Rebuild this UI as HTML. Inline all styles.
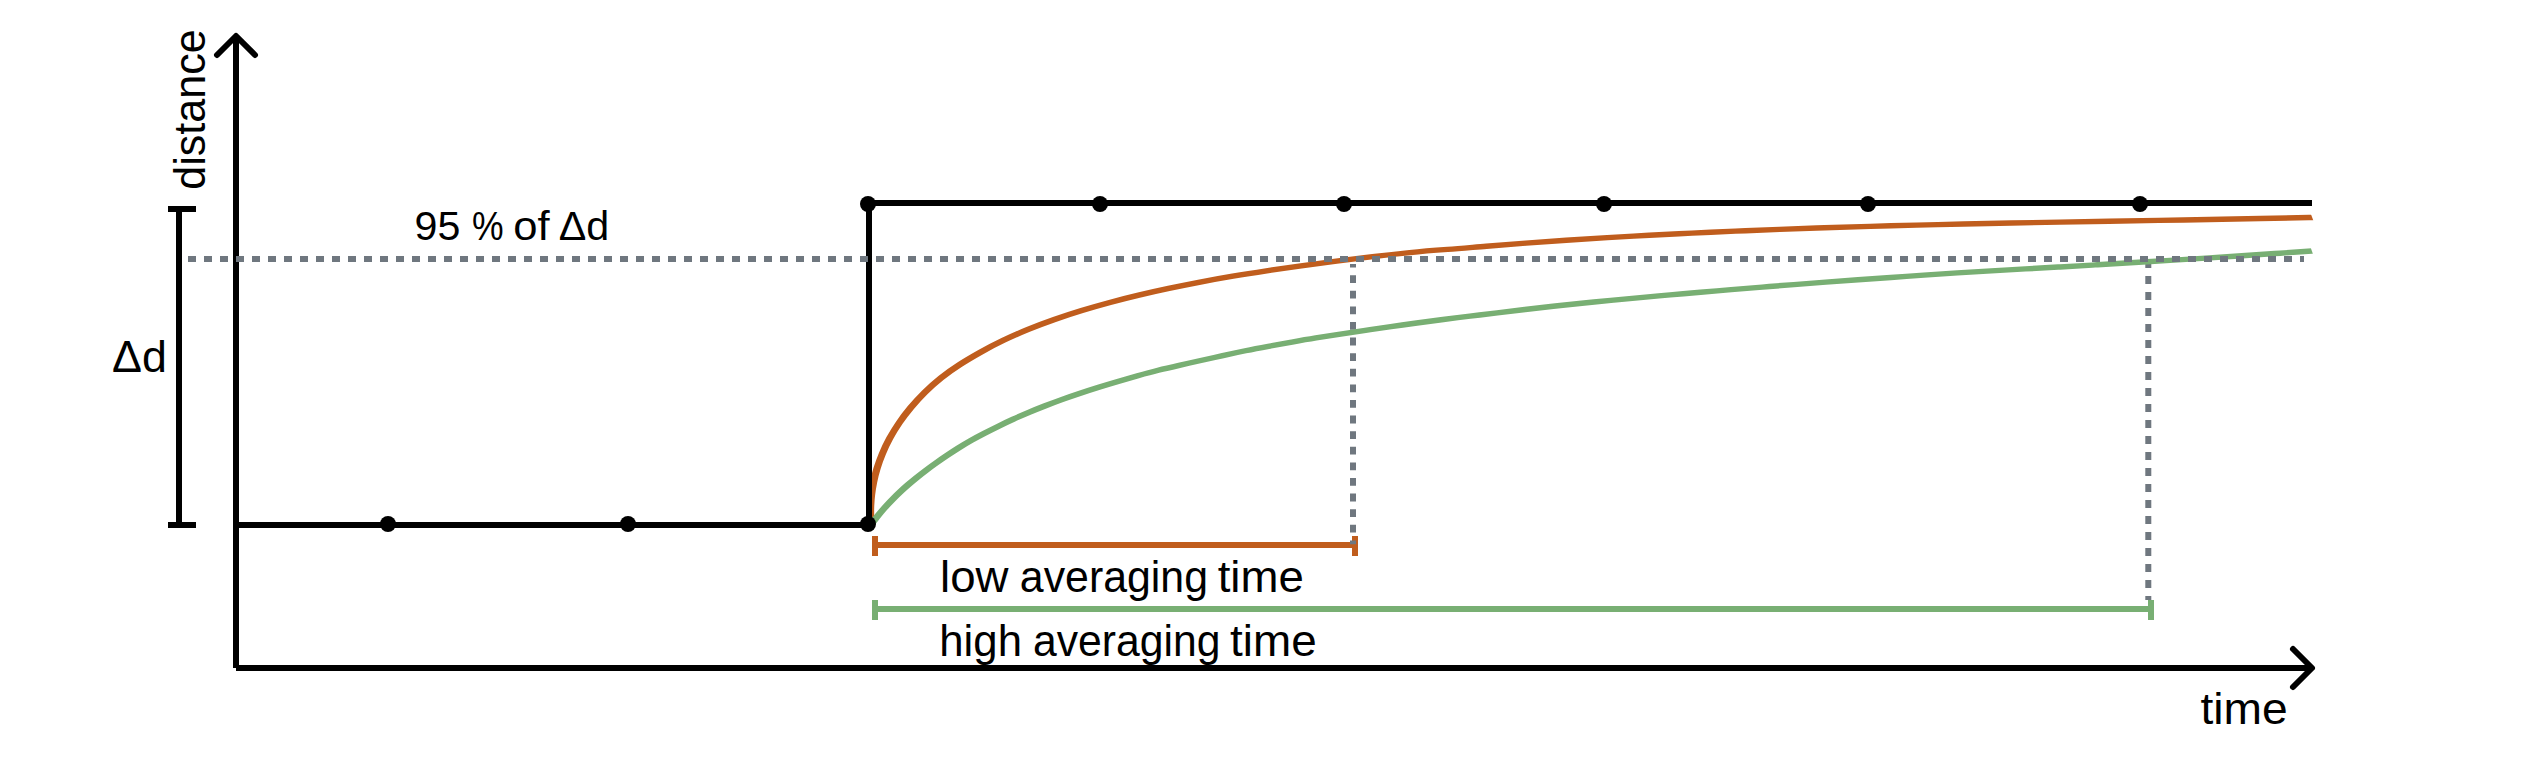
<!DOCTYPE html>
<html lang="en">
<head>
<meta charset="utf-8">
<title>Averaging time step response</title>
<style>
html,body{margin:0;padding:0;background:#fff;}
body{width:2540px;height:768px;overflow:hidden;}
svg{display:block;}
text{font-family:"Liberation Sans",sans-serif;fill:#000;}
</style>
</head>
<body>
<svg width="2540" height="768" viewBox="0 0 2540 768" role="img" aria-label="Step change in distance with low and high averaging time responses">
<defs>
<clipPath id="cutO"><path d="M0 0H2230.1L2520 768H0Z"/></clipPath>
<clipPath id="cutG"><path d="M0 0H2222.6L2495.8 768H0Z"/></clipPath>
</defs>
<rect width="2540" height="768" fill="#fff"/>
<!-- low averaging time curve + bracket -->
<g fill="none" stroke="#c05d1d" stroke-width="6">
<g clip-path="url(#cutO)"><path d="M721.11 582.38 C721.03 581.19 720.96 580.00 720.90 578.81 C720.78 576.40 720.70 573.98 720.66 571.57 C720.61 568.28 720.64 564.98 720.74 561.70 C720.87 557.67 721.11 553.65 721.46 549.66 C721.87 545.01 722.43 540.38 723.13 535.80 C723.92 530.63 724.89 525.52 726.03 520.48 C727.29 514.91 728.77 509.44 730.44 504.09 C732.25 498.26 734.29 492.57 736.52 487.06 C738.93 481.12 741.55 475.39 744.36 469.87 C747.36 463.97 750.59 458.28 754.01 452.78 C757.64 446.94 761.50 441.32 765.56 435.95 C769.84 430.28 774.34 424.89 779.04 419.86 C783.97 414.57 789.12 409.72 794.44 405.13 C800.01 400.33 805.77 395.82 811.68 391.36 C817.86 386.70 824.19 382.30 830.64 378.15 C837.36 373.82 844.20 369.76 851.12 365.96 C858.31 362.02 865.57 358.36 872.86 354.94 C880.41 351.39 887.98 348.08 895.51 344.99 C903.29 341.79 911.04 338.81 918.77 336.02 C926.75 333.13 934.72 330.44 942.72 327.89 C950.95 325.27 959.22 322.80 967.54 320.43 C976.11 317.99 984.75 315.66 993.48 313.39 C1002.45 311.06 1011.50 308.88 1020.56 306.83 C1029.86 304.72 1039.16 302.77 1048.46 300.90 C1057.99 298.98 1067.52 297.15 1077.05 295.36 C1086.81 293.54 1096.57 291.78 1106.33 290.09 C1116.33 288.37 1126.32 286.72 1136.32 285.16 C1146.54 283.56 1156.76 282.04 1167.00 280.65 C1177.45 279.22 1187.91 278.14 1198.37 277.14 C1209.05 276.11 1219.74 274.77 1230.43 273.60 C1241.33 272.40 1252.24 271.26 1263.16 270.17 C1274.28 269.06 1285.41 268.00 1296.55 267.00 C1307.90 265.97 1319.25 265.00 1330.60 264.07 C1342.16 263.13 1353.73 262.24 1365.30 261.40 C1377.07 260.54 1388.85 259.74 1400.63 258.98 C1412.62 258.20 1424.60 257.48 1436.60 256.79 C1448.79 256.10 1460.98 255.45 1473.18 254.84 C1485.57 254.22 1497.97 253.64 1510.37 253.10 C1522.97 252.55 1535.57 252.04 1548.17 251.55 C1560.96 251.06 1573.76 250.61 1586.55 250.18 C1599.54 249.74 1612.54 249.33 1625.53 248.95 C1638.71 248.55 1651.89 248.18 1665.07 247.83 C1678.44 247.48 1691.81 247.14 1705.18 246.81 C1718.74 246.47 1732.29 246.15 1745.84 245.83 C1759.58 245.51 1773.32 245.20 1787.05 244.88 C1800.97 244.55 1814.88 244.23 1828.80 243.89 C1842.89 243.55 1856.98 243.21 1871.06 242.84 C1885.33 242.47 1899.59 242.08 1913.85 241.67 l5.00 -0.14" transform="scale(1.208 0.9)"/></g>
<path d="M875 545H1355"/>
<path d="M875 536V556M1355 536V556"/>
</g>
<!-- vertical dotted guides -->
<g fill="none" stroke="#6f777f" stroke-width="6">
<path d="M1353 263.9V544.2" stroke-dasharray="7.8 7.8" stroke-dashoffset="4.3"/>
<path d="M2148.3 264V600" stroke-dasharray="8 8" stroke-dashoffset="4"/>
</g>
<!-- high averaging time curve + bracket -->
<g fill="none" stroke="#78af73" stroke-width="6">
<g clip-path="url(#cutG)"><path d="M721.46 582.35 C721.77 581.76 722.09 581.18 722.41 580.59 C723.06 579.41 723.72 578.24 724.39 577.08 C725.30 575.49 726.22 573.93 727.15 572.39 C728.29 570.50 729.45 568.63 730.63 566.80 C732.00 564.66 733.40 562.57 734.82 560.50 C736.42 558.18 738.05 555.89 739.70 553.65 C741.53 551.18 743.40 548.75 745.29 546.37 C747.36 543.78 749.46 541.24 751.60 538.76 C753.90 536.08 756.24 533.46 758.61 530.89 C761.15 528.14 763.72 525.46 766.33 522.83 C769.10 520.04 771.91 517.30 774.75 514.60 C777.75 511.74 780.78 508.92 783.84 506.15 C787.06 503.24 790.31 500.38 793.59 497.61 C797.02 494.70 800.48 491.92 803.96 489.28 C807.60 486.52 811.28 483.89 814.98 481.33 C818.83 478.67 822.71 476.08 826.62 473.50 C830.68 470.82 834.78 468.20 838.90 465.69 C843.17 463.10 847.48 460.60 851.81 458.17 C856.29 455.66 860.80 453.23 865.35 450.85 C870.03 448.39 874.75 445.99 879.49 443.68 C884.38 441.31 889.30 439.03 894.24 436.85 C899.33 434.60 904.44 432.39 909.57 430.24 C914.85 428.02 920.14 425.87 925.46 423.79 C930.92 421.67 936.39 419.53 941.88 417.44 C947.51 415.29 953.15 413.21 958.80 411.34 C964.59 409.42 970.39 407.64 976.19 405.89 C982.13 404.10 988.07 402.35 994.02 400.58 C1000.09 398.77 1006.18 396.94 1012.26 395.13 C1018.48 393.28 1024.70 391.47 1030.92 389.74 C1037.28 387.99 1043.63 386.37 1050.00 384.79 C1056.49 383.18 1062.98 381.60 1069.48 380.06 C1076.10 378.48 1082.73 376.93 1089.36 375.47 C1096.11 373.99 1102.87 372.56 1109.64 371.18 C1116.53 369.77 1123.42 368.41 1130.31 367.05 C1137.33 365.67 1144.35 364.30 1151.38 362.94 C1158.52 361.56 1165.67 360.20 1172.82 358.88 C1180.10 357.55 1187.38 356.26 1194.66 355.02 C1202.05 353.75 1209.46 352.53 1216.86 351.31 C1224.39 350.08 1231.91 348.86 1239.45 347.63 C1247.09 346.37 1254.74 345.11 1262.40 343.90 C1270.17 342.66 1277.94 341.47 1285.71 340.32 C1293.60 339.16 1301.50 338.03 1309.39 336.95 C1317.40 335.85 1325.41 334.79 1333.43 333.75 C1341.56 332.70 1349.69 331.68 1357.82 330.68 C1366.07 329.67 1374.31 328.68 1382.56 327.71 C1390.92 326.72 1399.29 325.75 1407.65 324.78 C1416.13 323.80 1424.60 322.80 1433.08 321.83 C1441.67 320.84 1450.26 319.89 1458.85 318.96 C1467.55 318.02 1476.25 317.10 1484.96 316.20 C1493.77 315.28 1502.58 314.39 1511.39 313.51 C1520.31 312.62 1529.23 311.75 1538.15 310.89 C1547.18 310.01 1556.21 309.15 1565.23 308.30 C1574.37 307.43 1583.50 306.53 1592.64 305.65 C1601.87 304.75 1611.11 303.97 1620.35 303.21 C1629.69 302.44 1639.03 301.69 1648.37 300.96 C1657.82 300.22 1667.26 299.50 1676.70 298.78 C1686.25 298.05 1695.79 297.33 1705.33 296.60 C1714.98 295.86 1724.62 295.11 1734.26 294.35 C1744.00 293.57 1753.74 292.78 1763.47 292.00 C1773.31 291.20 1783.14 290.40 1792.98 289.58 C1802.91 288.76 1812.83 287.93 1822.76 287.08 C1832.78 286.23 1842.80 285.36 1852.82 284.47 C1862.93 283.58 1873.04 282.66 1883.15 281.73 C1893.35 280.78 1903.55 279.82 1913.74 278.82 l4.98 -0.49" transform="scale(1.208 0.9)"/></g>
<path d="M875 609H2151"/>
<path d="M875 600V620M2151 600V620"/>
</g>
<!-- axes -->
<g fill="none" stroke="#000" stroke-width="6">
<path d="M236 668V36"/>
<path d="M236 668H2312"/>
<path d="M217 55L236 36L255 55" stroke-linecap="round" stroke-linejoin="round"/>
<path d="M2293 649L2312 668L2293 687" stroke-linecap="round" stroke-linejoin="round"/>
<!-- step signal -->
<path d="M236 525H869"/>
<path d="M869 525V203"/>
<path d="M866 203H2312"/>
<!-- delta d bracket -->
<path d="M179 209V525"/>
<path d="M168 209H196M168 525H196"/>
</g>
<g fill="#000"><circle cx="388" cy="524" r="8"/><circle cx="628" cy="524" r="8"/><circle cx="868" cy="524" r="8"/><circle cx="868" cy="204" r="8"/><circle cx="1100" cy="204" r="8"/><circle cx="1344" cy="204" r="8"/><circle cx="1604" cy="204" r="8"/><circle cx="1868" cy="204" r="8"/><circle cx="2140" cy="204" r="8"/></g>
<!-- 95 % level (drawn above the axes and the step) -->
<path d="M188 259H2304" fill="none" stroke="#6f777f" stroke-width="6" stroke-dasharray="8 8"/>
<!-- labels -->
<text x="0" y="0" font-size="45" transform="translate(204.6 189.7) rotate(-90)" textLength="160.4" lengthAdjust="spacingAndGlyphs">distance</text>
<text y="240" font-size="40" aria-label="95 % of Δd"><tspan x="414.6" textLength="45.8" lengthAdjust="spacingAndGlyphs">95</tspan> <tspan x="471.9" textLength="31.6" lengthAdjust="spacingAndGlyphs">%</tspan> <tspan x="513.3" textLength="36.4" lengthAdjust="spacingAndGlyphs">of</tspan> <tspan x="558.8" textLength="50.5" lengthAdjust="spacingAndGlyphs">Δd</tspan></text>
<text y="372" font-size="44" aria-label="Δd"><tspan x="112" textLength="54.9" lengthAdjust="spacingAndGlyphs">Δd</tspan></text>
<text y="592" font-size="44" aria-label="low averaging time"><tspan x="940" textLength="68.5" lengthAdjust="spacingAndGlyphs">low</tspan> <tspan x="1019.8" textLength="188.2" lengthAdjust="spacingAndGlyphs">averaging</tspan> <tspan x="1217.7" textLength="86.1" lengthAdjust="spacingAndGlyphs">time</tspan></text>
<text y="655.5" font-size="44" aria-label="high averaging time"><tspan x="939.3" textLength="82.7" lengthAdjust="spacingAndGlyphs">high</tspan> <tspan x="1033" textLength="187.4" lengthAdjust="spacingAndGlyphs">averaging</tspan> <tspan x="1230.1" textLength="86.6" lengthAdjust="spacingAndGlyphs">time</tspan></text>
<text y="724" font-size="44" aria-label="time"><tspan x="2200.5" textLength="87.3" lengthAdjust="spacingAndGlyphs">time</tspan></text>
</svg>
</body>
</html>
